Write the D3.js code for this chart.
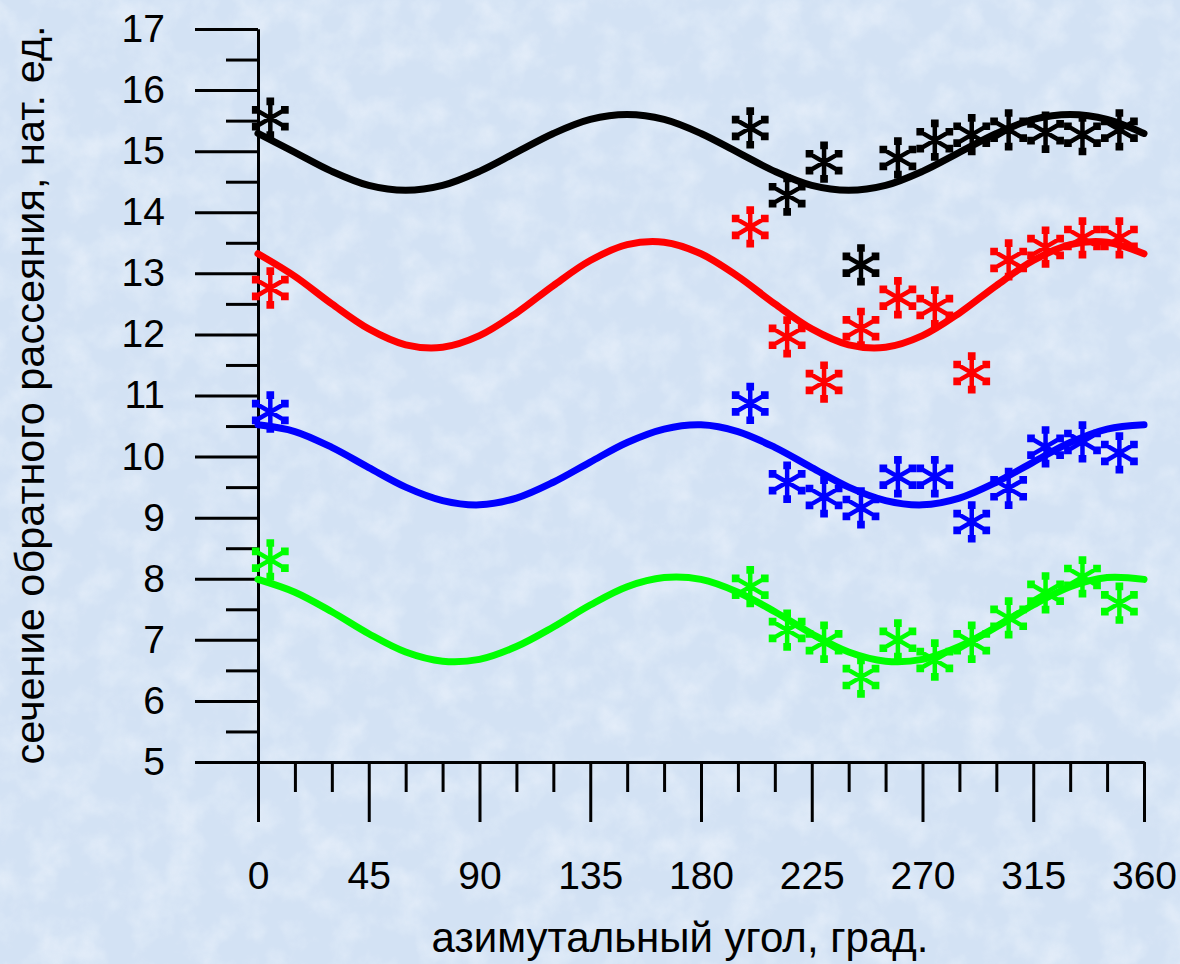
<!DOCTYPE html>
<html>
<head>
<meta charset="utf-8">
<script src="https://cdn.jsdelivr.net/npm/d3@7"></script>
<style>
  body { margin: 0; background: #d6e4f5; }
  svg { display: block; font-family: "Liberation Sans", Arial, sans-serif; }
</style>
</head>
<body>
<svg width="1180" height="964"></svg>
<script>
// Fitted curves, read every 15 degrees
var angles = [0, 15, 30, 45, 60, 75, 90, 105, 120, 135, 150, 165, 180,
  195, 210, 225, 240, 255, 270, 285, 300, 315, 330, 345, 360];
var blackFit = [15.29, 14.98, 14.67, 14.44, 14.36, 14.44, 14.67, 14.98, 15.29, 15.52, 15.60, 15.52, 15.29,
  14.98, 14.67, 14.44, 14.36, 14.44, 14.67, 14.98, 15.29, 15.52, 15.60, 15.52, 15.29];
var redFit = [13.32, 12.95, 12.50, 12.09, 11.83, 11.79, 11.98, 12.35, 12.80, 13.21, 13.47, 13.51, 13.32,
  12.95, 12.50, 12.09, 11.83, 11.79, 11.98, 12.35, 12.80, 13.21, 13.47, 13.51, 13.32];
var blueFit = [10.52, 10.41, 10.15, 9.82, 9.50, 9.28, 9.21, 9.32, 9.58, 9.91, 10.23, 10.45, 10.52,
  10.41, 10.15, 9.82, 9.50, 9.28, 9.21, 9.32, 9.58, 9.91, 10.23, 10.45, 10.52];
var greenFit = [7.99, 7.78, 7.46, 7.10, 6.80, 6.65, 6.68, 6.89, 7.21, 7.57, 7.87, 8.02, 7.99,
  7.78, 7.46, 7.10, 6.80, 6.65, 6.68, 6.89, 7.21, 7.57, 7.87, 8.02, 7.99];

// Measured points
var pointAngles = [5, 200, 215, 230, 245, 260, 275, 290, 305, 320, 335, 350];
var blackPts = [15.54, 15.38, 14.28, 14.82, 13.14, 14.89, 15.18, 15.27, 15.35, 15.31, 15.27, 15.35];
var redPts = [12.76, 13.76, 11.96, 11.22, 12.10, 12.60, 12.45, 11.37, 13.22, 13.43, 13.58, 13.58];
var bluePts = [10.73, 10.87, 9.58, 9.34, 9.16, 9.67, 9.67, 8.93, 9.48, 10.16, 10.24, 10.06];
var greenPts = [8.31, 7.87, 7.16, 6.96, 6.39, 7.00, 6.67, 6.96, 7.36, 7.77, 8.03, 7.60];

var seriesColors = ["#000000", "#ff0000", "#0000ff", "#00ff00"];

// Axes
var xMajor = [0, 45, 90, 135, 180, 225, 270, 315, 360];
var xMinor = [15, 30, 60, 75, 105, 120, 150, 165, 195, 210, 240, 255, 285, 300, 330, 345];
var yMajor = [5, 6, 7, 8, 9, 10, 11, 12, 13, 14, 15, 16, 17];
var yMinor = [5.5, 6.5, 7.5, 8.5, 9.5, 10.5, 11.5, 12.5, 13.5, 14.5, 15.5, 16.5];

var xTitle = "азимутальный угол, град.";
var yTitle = "сечение обратного рассеяния, нат. ед.";

var svg = d3.select("svg"),
  width = +svg.attr("width"),
  height = +svg.attr("height");

// paper-like background
var defs = svg.append("defs");
var f = defs.append("filter").attr("id", "paper")
  .attr("x", 0).attr("y", 0).attr("width", "100%").attr("height", "100%");
f.append("feTurbulence").attr("type", "fractalNoise")
  .attr("baseFrequency", "0.03").attr("numOctaves", 4).attr("seed", 7);
f.append("feColorMatrix").attr("type", "matrix")
  .attr("values", "0 0 0 0 0.93  0 0 0 0 0.96  0 0 0 0 1  0 0 0 -1.6 0.95");
svg.append("rect").attr("width", width).attr("height", height).attr("fill", "#d3e2f4");
svg.append("rect").attr("width", width).attr("height", height)
  .attr("filter", "url(#paper)").attr("opacity", 0.55);

var x = d3.scaleLinear().domain([0, 360]).range([258, 1144]);
var y = d3.scaleLinear().domain([5, 17]).range([762, 29]);

function styleAxis(g) {
  g.selectAll("path, line").attr("stroke", "#000").attr("stroke-width", 3);
  g.selectAll("text").attr("fill", "#000").attr("font-size", 39)
    .attr("font-family", "Liberation Sans, Arial, sans-serif");
}

// y axis
svg.append("g").attr("transform", "translate(258,0)")
  .call(d3.axisLeft(y).tickValues(yMinor).tickSize(32).tickSizeOuter(0).tickFormat(""))
  .call(styleAxis);
svg.append("g").attr("transform", "translate(258,0)")
  .call(d3.axisLeft(y).tickValues(yMajor).tickSize(63).tickSizeOuter(0).tickPadding(30))
  .call(styleAxis);

// x axis
svg.append("g").attr("transform", "translate(0,762)")
  .call(d3.axisBottom(x).tickValues(xMinor).tickSize(30).tickSizeOuter(0).tickFormat(""))
  .call(styleAxis);
svg.append("g").attr("transform", "translate(0,762)")
  .call(d3.axisBottom(x).tickValues(xMajor).tickSize(60).tickSizeOuter(0).tickPadding(39))
  .call(styleAxis);

svg.append("text")
  .attr("x", 680).attr("y", 952)
  .attr("text-anchor", "middle")
  .attr("font-size", 42)
  .text(xTitle);

svg.append("text")
  .attr("transform", "translate(44,395) rotate(-90)")
  .attr("text-anchor", "middle")
  .attr("font-size", 41.5)
  .text(yTitle);

// curves
var fits = [blackFit, redFit, blueFit, greenFit];
var line = d3.line()
  .x(function(d, i) { return x(angles[i]); })
  .y(function(d) { return y(d); })
  .curve(d3.curveCatmullRom);

svg.append("g").selectAll("path")
  .data(fits)
  .enter().append("path")
    .attr("d", line)
    .attr("fill", "none")
    .attr("stroke", function(d, i) { return seriesColors[i]; })
    .attr("stroke-width", 7)
    .attr("stroke-linejoin", "round")
    .attr("stroke-linecap", "round");

// asterisk with small blobs at the spoke ends
var starType = {
  draw: function(context, size) {
    var r = Math.sqrt(size) * 0.5945;
    var t = r / 2, u = t * Math.sqrt(3), b = 1.6;
    var ends = [[0, r], [0, -r], [-u, -t], [u, t], [-u, t], [u, -t]];
    for (var k = 0; k < 6; k += 2) {
      context.moveTo(ends[k][0], ends[k][1]);
      context.lineTo(ends[k + 1][0], ends[k + 1][1]);
    }
    ends.forEach(function(e) {
      var ex = e[0] * 0.86, ey = e[1] * 0.86;
      context.moveTo(ex - b, ey - b);
      context.lineTo(ex + b, ey - b);
      context.lineTo(ex + b, ey + b);
      context.lineTo(ex - b, ey + b);
      context.closePath();
    });
  }
};
var star = d3.symbol().type(starType).size(1080);

var pts = [blackPts, redPts, bluePts, greenPts];
pts.forEach(function(series, s) {
  svg.append("g").selectAll("path")
    .data(series)
    .enter().append("path")
      .attr("transform", function(d, i) { return "translate(" + x(pointAngles[i]) + "," + y(d) + ")"; })
      .attr("d", star)
      .attr("fill", "none")
      .attr("stroke", seriesColors[s])
      .attr("stroke-width", 4.5)
      .attr("stroke-linejoin", "miter");
});
</script>
</body>
</html>
